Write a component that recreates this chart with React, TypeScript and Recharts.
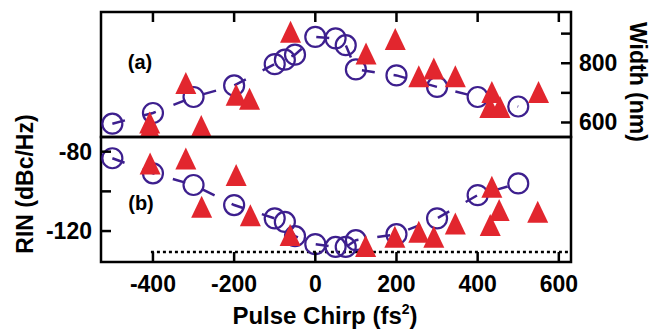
import React from 'react'
import { ScatterChart, Scatter, XAxis, YAxis, ReferenceArea, ReferenceLine } from 'recharts'

// circles: measured points, triangles: simulation
const chirpCircles = [-500, -400, -300, -200, -100, -75, -50, 0, 50, 75, 100, 200, 300, 400, 500]
const widthCircles = [596, 632, 686, 725, 797, 812, 829, 889, 884, 861, 779, 759, 720, 686, 654]
const rinCircles = [-83.3, -90.9, -96.8, -106.9, -113.6, -115.4, -122.6, -126.6, -128, -128, -124.6, -121.6, -113.6, -101.9, -96]

const chirpTriA = [-408, -408, -319, -281, -195, -162, -61, 125, 197, 255, 292, 345, 435, 430, 455, 550]
const widthTri = [600, 583, 733, 588, 694, 680, 906, 833, 882, 756, 782, 756, 703, 652, 652, 703]

const chirpTriB = [-407, -319, -280, -195, -160, -62, 124, 196, 255, 292, 345, 435, 453, 431, 548]
const rinTri = [-85.9, -83.4, -107.8, -91.8, -112, -122, -127.5, -122.9, -120.4, -122.9, -116.2, -97.7, -109.4, -117, -110.3]

const xTicks = [-400, -200, 0, 200, 400, 600]
const widthTicks = [600, 700, 800, 900]
const widthLabels = [600, 800]
const rinTicks = [-120, -100, -80]
const rinLabels = [-120, -80]

const noiseFloor = -130.6
const noiseFloorStart = -405

const xDomain: [number, number] = [-528, 630]
const widthDomain: [number, number] = [551, 973]
const rinDomain: [number, number] = [-135.6, -72.6]

const W = 665
const H = 330
const FONT = '"Liberation Sans", Arial, sans-serif'
const PURPLE = '#3d1f8e'
const RED = '#e2262e'
const LW = 2.5

const topCircles = chirpCircles.map((x, i) => ({ x, y: widthCircles[i] }))
const topTris = chirpTriA.map((x, i) => ({ x, y: widthTri[i] }))
const botCircles = chirpCircles.map((x, i) => ({ x, y: rinCircles[i] }))
const botTris = chirpTriB.map((x, i) => ({ x, y: rinTri[i] }))

function Ring(props: any) {
  const { cx, cy } = props
  return <circle cx={cx} cy={cy} r={10} fill="none" stroke={PURPLE} strokeWidth={2.2} />
}

function Tri(props: any) {
  const { cx, cy } = props
  return <polygon points={`${cx},${cy - 11} ${cx + 10.5},${cy + 11} ${cx - 10.5},${cy + 11}`} fill={RED} />
}

const tickText = { fontFamily: FONT, fontWeight: 700, fontSize: 23, fill: '#000' }

// axes have a 1px box (a 0px one is not drawn); tick props give the plot edge
const TopXTick = (p: any) => (
  <line x1={p.x} x2={p.x} y1={p.y} y2={p.y + 10} stroke="#000" strokeWidth={LW} />
)

const BottomXTick = (p: any) => (
  <g>
    <line x1={p.x} x2={p.x} y1={p.y} y2={p.y - 10} stroke="#000" strokeWidth={LW} />
    <text x={p.x} y={p.y + 30} textAnchor="middle" {...tickText}>
      {p.payload.value}
    </text>
  </g>
)

const RightYTick = (p: any) => (
  <g>
    <line x1={p.x - 10} x2={p.x} y1={p.y} y2={p.y} stroke="#000" strokeWidth={LW} />
    {widthLabels.includes(p.payload.value) && (
      <text x={p.x + 8} y={p.y + 8} textAnchor="start" {...tickText}>
        {p.payload.value}
      </text>
    )}
  </g>
)

const LeftYTick = (p: any) => (
  <g>
    <line x1={p.x} x2={p.x + 10} y1={p.y} y2={p.y} stroke="#000" strokeWidth={LW} />
    {rinLabels.includes(p.payload.value) && (
      <text x={p.x - 9} y={p.y + 8} textAnchor="end" {...tickText}>
        {p.payload.value}
      </text>
    )}
  </g>
)

const label = (left: number, top: number, rot: number, size: number): React.CSSProperties => ({
  position: 'absolute',
  left,
  top,
  transform: `translate(-50%, -50%) rotate(${rot}deg)`,
  whiteSpace: 'nowrap',
  fontFamily: FONT,
  fontWeight: 700,
  fontSize: size,
  lineHeight: 1,
  color: '#000',
})

export default function App() {
  return (
    <div style={{ position: 'absolute', left: 0, top: 0, width: W, height: H, background: '#fff' }}>
      <div style={{ position: 'absolute', left: 0, top: 0 }}>
        <ScatterChart width={W} height={H} margin={{ top: 11, right: 93, bottom: 193, left: 101 }}>
          <XAxis
            type="number"
            dataKey="x"
            orientation="top"
            domain={xDomain}
            allowDataOverflow
            ticks={xTicks}
            interval={0}
            height={1}
            tickSize={0}
            tickMargin={0}
            axisLine={false}
            tickLine={false}
            tick={TopXTick}
          />
          <YAxis
            type="number"
            dataKey="y"
            orientation="right"
            domain={widthDomain}
            allowDataOverflow
            ticks={widthTicks}
            interval={0}
            width={1}
            tickSize={0}
            tickMargin={0}
            axisLine={false}
            tickLine={false}
            tick={RightYTick}
          />
          <Scatter
            data={topCircles}
            shape={Ring}
            line={{ stroke: PURPLE, strokeWidth: 2.5, strokeDasharray: '13 19' }}
            isAnimationActive={false}
          />
          <Scatter data={topTris} shape={Tri} isAnimationActive={false} />
          <ReferenceArea
            x1={xDomain[0]}
            x2={xDomain[1]}
            y1={widthDomain[0]}
            y2={widthDomain[1]}
            fill="none"
            stroke="#000"
            strokeWidth={LW}
          />
        </ScatterChart>
      </div>
      <div style={{ position: 'absolute', left: 0, top: 0 }}>
        <ScatterChart width={W} height={H} margin={{ top: 137, right: 94, bottom: 67, left: 100 }}>
          <XAxis
            type="number"
            dataKey="x"
            orientation="bottom"
            domain={xDomain}
            allowDataOverflow
            ticks={xTicks}
            interval={0}
            height={1}
            tickSize={0}
            tickMargin={0}
            axisLine={false}
            tickLine={false}
            tick={BottomXTick}
          />
          <YAxis
            type="number"
            dataKey="y"
            orientation="left"
            domain={rinDomain}
            allowDataOverflow
            ticks={rinTicks}
            interval={0}
            width={1}
            tickSize={0}
            tickMargin={0}
            axisLine={false}
            tickLine={false}
            tick={LeftYTick}
          />
          <ReferenceLine
            segment={[
              { x: noiseFloorStart, y: noiseFloor },
              { x: xDomain[1], y: noiseFloor },
            ]}
            stroke="#000"
            strokeWidth={LW}
            strokeDasharray="3 3"
          />
          <Scatter
            data={botCircles}
            shape={Ring}
            line={{ stroke: PURPLE, strokeWidth: 2.5, strokeDasharray: '13 19' }}
            isAnimationActive={false}
          />
          <Scatter data={botTris} shape={Tri} isAnimationActive={false} />
          <ReferenceArea
            x1={xDomain[0]}
            x2={xDomain[1]}
            y1={rinDomain[0]}
            y2={rinDomain[1]}
            fill="none"
            stroke="#000"
            strokeWidth={LW}
          />
        </ScatterChart>
      </div>
      <div style={label(140, 62, 0, 20)}>(a)</div>
      <div style={label(141, 203, 0, 20)}>(b)</div>
      <div style={label(637, 82, 90, 23)}>Width (nm)</div>
      <div style={label(25, 184, -90, 23)}>RIN (dBc/Hz)</div>
      <div style={label(325, 316, 0, 24)}>
        Pulse Chirp (fs<span style={{ fontSize: 14, position: 'relative', top: -10 }}>2</span>)
      </div>
    </div>
  )
}
